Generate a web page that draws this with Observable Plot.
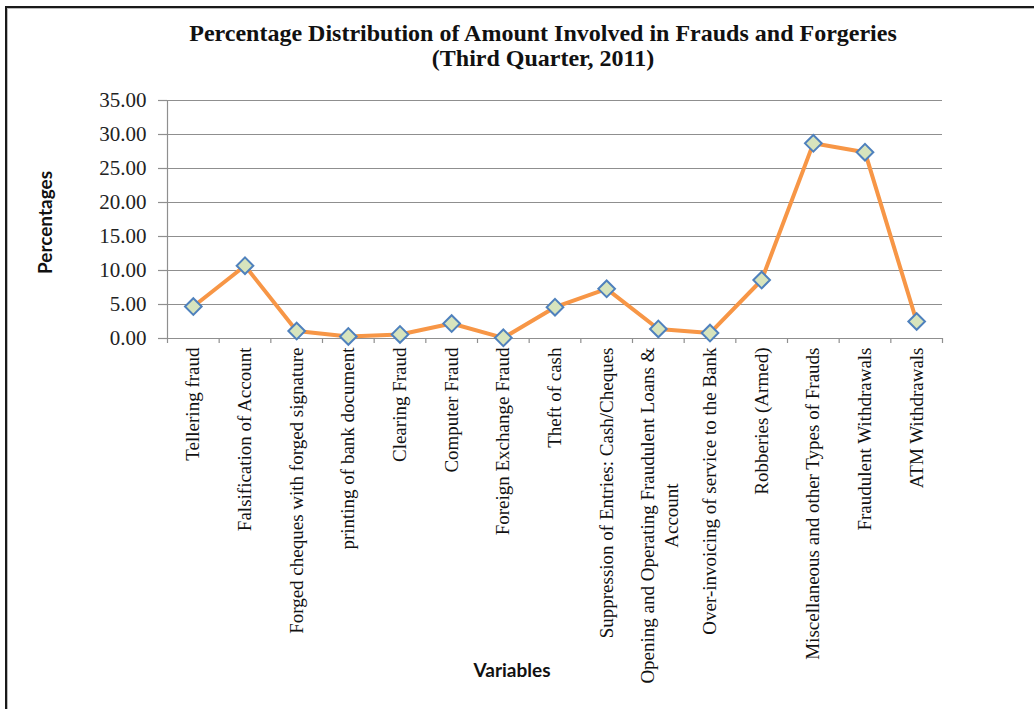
<!DOCTYPE html>
<html>
<head>
<meta charset="utf-8">
<script src="https://cdn.jsdelivr.net/npm/d3@7"></script>
<script src="https://cdn.jsdelivr.net/npm/@observablehq/plot@0.6"></script>
<style>
  html, body { margin: 0; padding: 0; background: #fff; }
  #wrap { position: relative; width: 1034px; height: 709px; overflow: hidden; background: #fff; }
  #frame { position: absolute; left: 5px; top: 6px; width: 1100px; height: 800px;
           border-top: 2px solid #1a1a1a; border-left: 2px solid #1a1a1a;
           box-shadow: inset 1px 1px 0 #bbb; pointer-events: none; }
  #chart { position: absolute; left: 0; top: 0; }
</style>
</head>
<body>
<div id="wrap"><div id="chart"></div><div id="frame"></div></div>
<script>
const titleText = "Percentage Distribution of Amount Involved in Frauds and Forgeries\n(Third Quarter, 2011)";
const yLabel = "Percentages";
const xLabel = "Variables";
const categories = [
  "Tellering fraud",
  "Falsification of Account",
  "Forged cheques with forged signature",
  "printing of bank document",
  "Clearing Fraud",
  "Computer Fraud",
  "Foreign Exchange Fraud",
  "Theft of cash",
  "Suppression of Entries: Cash/Cheques",
  "Opening and Operating Fraudulent Loans &\nAccount",
  "Over-invoicing of service to the Bank",
  "Robberies (Armed)",
  "Miscellaneous and other Types of Frauds",
  "Fraudulent Withdrawals",
  "ATM Withdrawals"
];
const values = [4.7, 10.7, 1.1, 0.3, 0.6, 2.2, 0.1, 4.6, 7.3, 1.4, 0.8, 8.6, 28.7, 27.4, 2.5];
const yTicks = [0, 5, 10, 15, 20, 25, 30, 35];

const data = categories.map((c, i) => ({label: c, idx: i + 0.5, value: values[i]}));
const bounds = d3.range(categories.length + 1);

const catSize = 19;
const ctx = document.createElement("canvas").getContext("2d");
ctx.font = catSize + "px 'Liberation Serif'";
function lineWidth(s) { return ctx.measureText(s).width; }

const single = data.filter(d => !d.label.includes("\n"));
const multi = data.filter(d => d.label.includes("\n"));
const multiMarks = multi.map(d => {
  const w = d3.max(d.label.split("\n"), lineWidth);
  return Plot.text([d], {x: "idx", text: "label", frameAnchor: "bottom", rotate: -90,
    textAnchor: "middle", lineAnchor: "middle", dy: 9 + w / 2, lineHeight: 1.25,
    fontFamily: "Liberation Serif", fontSize: catSize, fill: "#111"});
});

const chart = Plot.plot({
  width: 1034,
  height: 709,
  marginLeft: 167,
  marginRight: 92,
  marginTop: 100,
  marginBottom: 371,
  x: {type: "linear", domain: [0, categories.length], axis: null},
  y: {domain: [0, 35], axis: null},
  style: {background: "transparent", overflow: "visible"},
  marks: [
    Plot.gridY(yTicks, {stroke: "#8f8f8f", strokeOpacity: 1, strokeWidth: 1.2}),
    Plot.axisY(yTicks, {tickSize: 9, tickPadding: 12, stroke: "#8f8f8f", strokeWidth: 1.2,
      tickFormat: d => d.toFixed(2), fontFamily: "Liberation Serif", fontSize: 21, fill: "#222", label: null}),
    Plot.axisX(bounds, {tickSize: 5, tickFormat: () => "", stroke: "#8f8f8f", strokeWidth: 1.2, label: null}),
    Plot.ruleX([0], {stroke: "#8f8f8f", strokeWidth: 1.2}),
    Plot.ruleY([0], {stroke: "#8f8f8f", strokeWidth: 1.2}),
    Plot.line(data, {x: "idx", y: "value", stroke: "#f79646", strokeWidth: 4, strokeLinejoin: "round"}),
    Plot.dot(data, {x: "idx", y: "value", symbol: "diamond2", r: 7.5, fill: "#d7e4bd", stroke: "#4f81bd", strokeWidth: 2}),
    Plot.text(single, {x: "idx", text: "label", frameAnchor: "bottom", rotate: -90,
      textAnchor: "end", lineAnchor: "middle", dy: 9,
      fontFamily: "Liberation Serif", fontSize: catSize, fill: "#111"}),
    ...multiMarks,
    Plot.text([titleText], {frameAnchor: "top", textAnchor: "middle", dx: -12, dy: -55, lineAnchor: "middle", lineHeight: 1.05,
      fontFamily: "Liberation Serif", fontWeight: "bold", fontSize: 24, fill: "#111"}),
    Plot.text([yLabel], {frameAnchor: "left", textAnchor: "middle", rotate: -90, dx: -122, dy: 3, lineAnchor: "middle",
      fontFamily: "Lato", fontWeight: "bold", fontSize: 19, fill: "#111"}),
    Plot.text([xLabel], {frameAnchor: "bottom", textAnchor: "middle", dx: -43, dy: 332, lineAnchor: "middle",
      fontFamily: "Lato", fontWeight: "bold", fontSize: 19, fill: "#111"})
  ]
});
document.getElementById("chart").appendChild(chart);
</script>
</body>
</html>
